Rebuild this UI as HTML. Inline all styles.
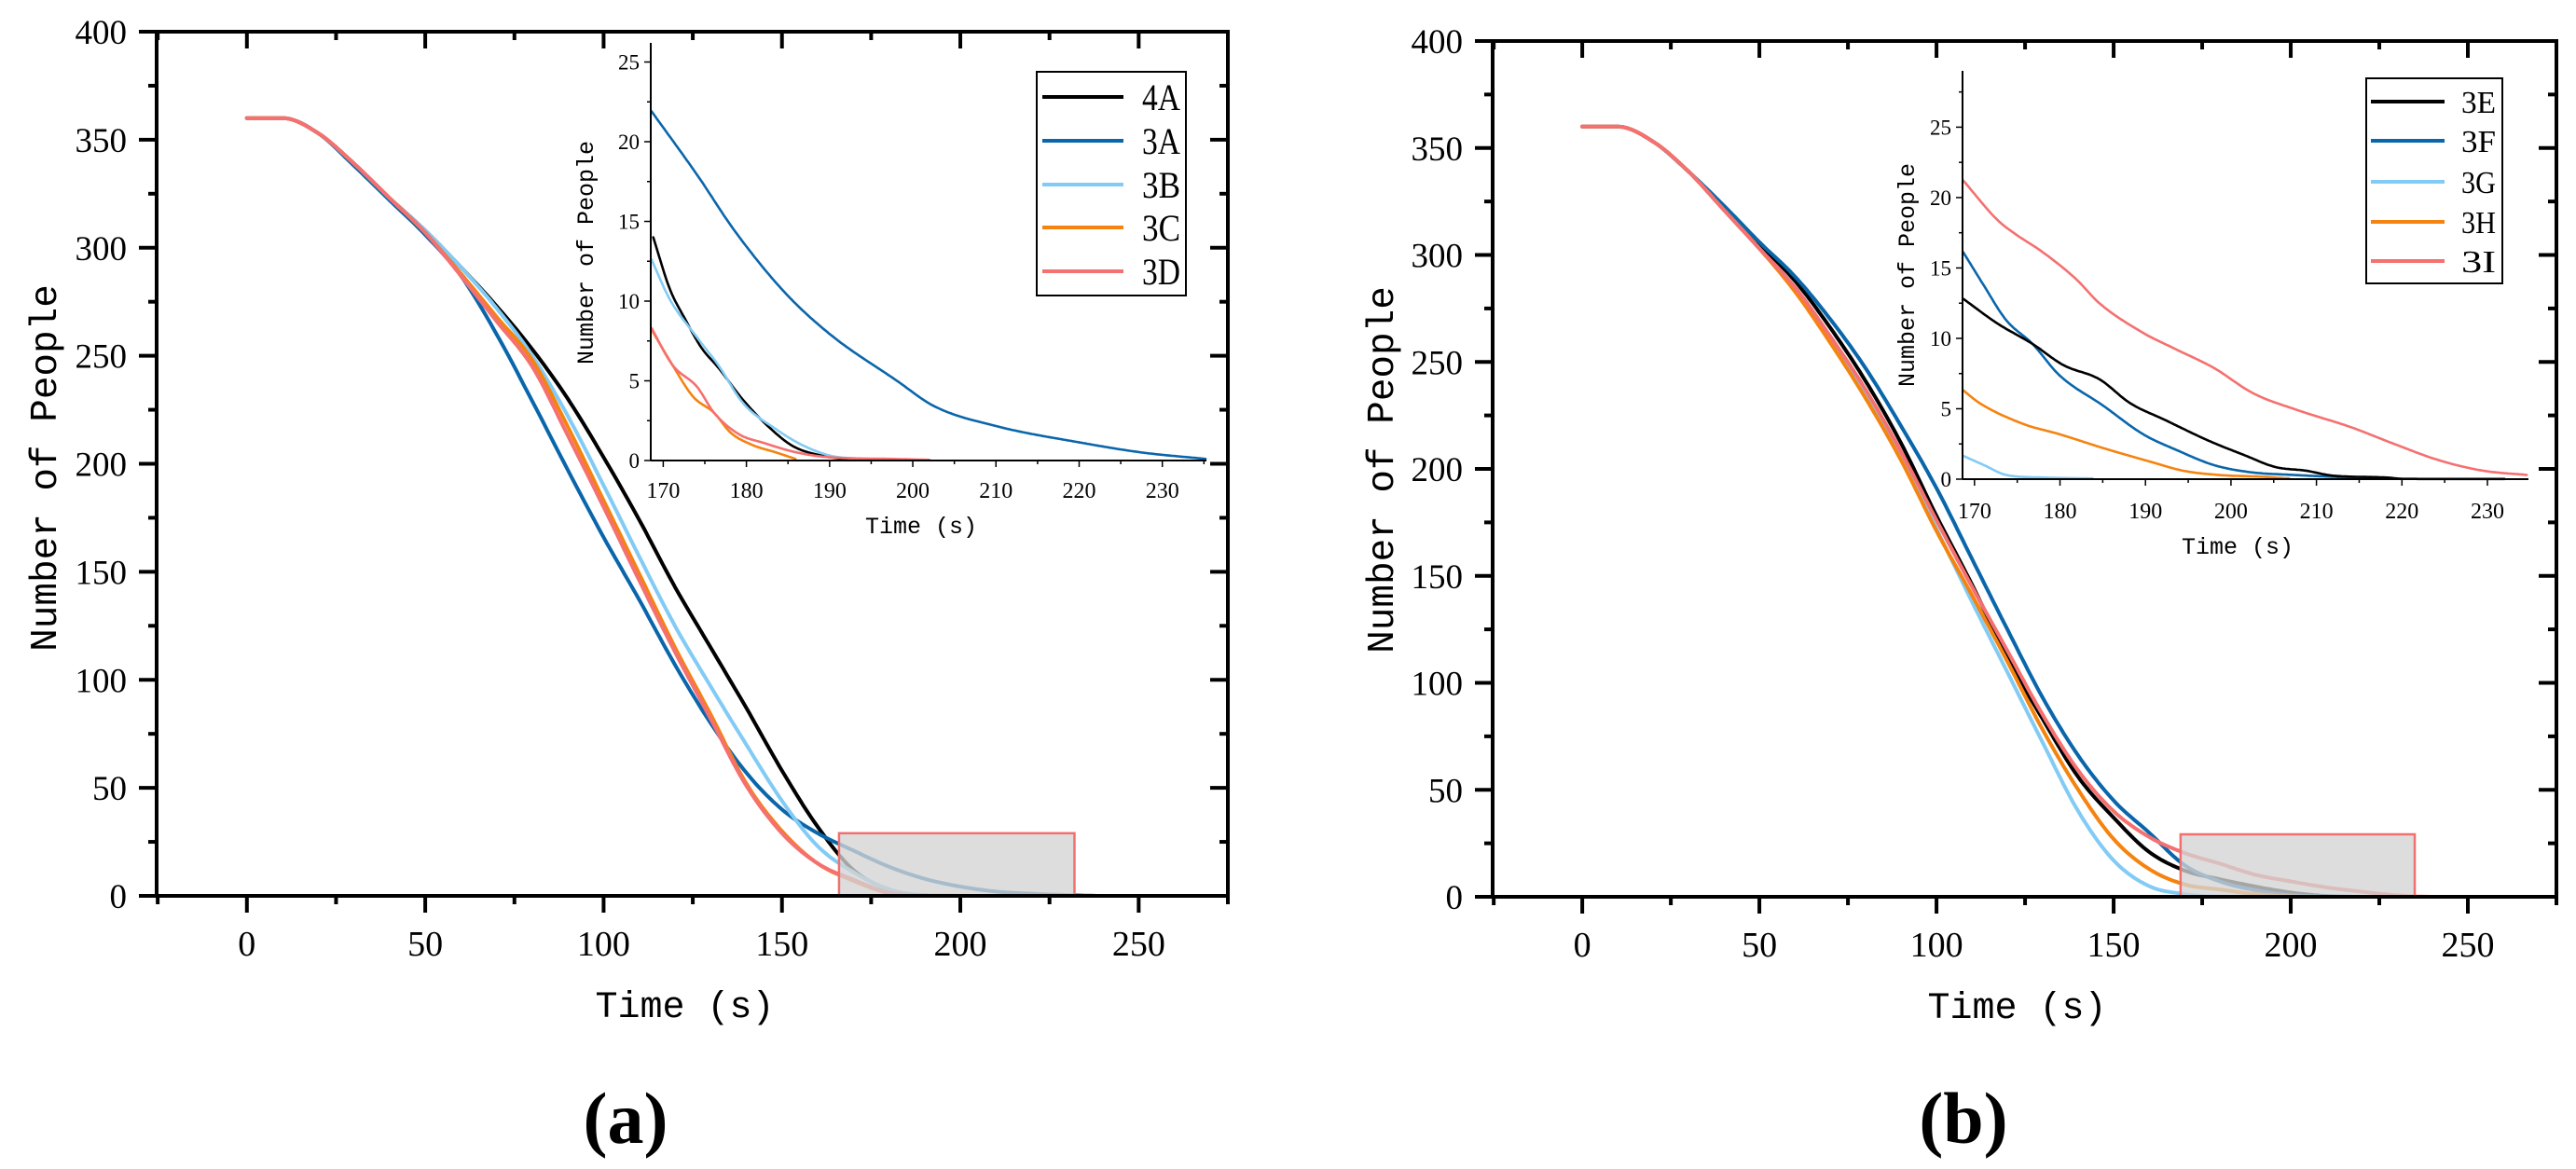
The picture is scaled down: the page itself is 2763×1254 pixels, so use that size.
<!DOCTYPE html>
<html><head><meta charset="utf-8">
<style>
html,body{margin:0;padding:0;background:#fff;}
svg{display:block;}
.tk{font-family:"Liberation Serif",serif;fill:#000;}
.mono{font-family:"Liberation Mono",monospace;fill:#000;}
</style></head>
<body>
<svg id="chart" width="2763" height="1254" viewBox="0 0 2763 1254" xmlns="http://www.w3.org/2000/svg"></svg>
<script>
// ---------- Panel (a) main data ----------
const mainTimes = [0,10,20,30,40,50,60,70,80,90,100,110,120,130,140,150,160,170,180,190,200,210,220,230,240,250];
const a_4A = [360,360,353,339,323,308,291,273,253,230,203,174,143,115,87,58,32,12,3,0.3,0,0,0,0,0,0];
const a_3A = [360,360,353,338,322,306,287,260,229,197,166,137,107,80,57,40,29,21,13.5,7.9,4.3,2.0,1.0,0.4,0,0];
const a_3B = [360,360,353,339,323,308,291,272,250,222,190,157,125,97,70,44,23,11,3,0.3,0,0,0,0,0,0];
const a_3C = [360,360,353,339,323,307,288,268,248,217,183,149,115,84,52,30,15,7,1.2,0,0,0,0,0,0,0];
const a_3D = [360,360,353,339,323,307,287,266,245,213,180,146,113,82,51,29,15,7.5,1.5,0.3,0.05,0,0,0,0,0];
// ---------- Panel (a) inset data ----------
const ia_3A_t = [168.6,174.1,178.6,184.6,190.1,198.1,202.6,210.1,220.1,227.6,235.2];
const ia_3A_v = [21.9,17.9,14.4,10.55,7.9,5.0,3.4,2.15,1.13,0.5,0.1];
const ia_4A_t = [168.8,170.8,172.6,174.6,176.6,179.6,182.6,185.6,189.1,192.6];
const ia_4A_v = [14.0,10.75,8.9,7.07,5.84,3.8,2.15,0.9,0.3,0.04];
const ia_3B_t = [168.6,170.8,174.1,176.6,179.6,183.6,186.6,190.1,193.6,195];
const ia_3B_v = [12.6,10.1,7.7,6.0,3.6,1.95,1.0,0.3,0.1,0.02];
const ia_3C_t = [168.6,171.1,173.6,176.1,178.1,180.6,183.6,185.9];
const ia_3C_v = [8.2,6.0,4.0,3.0,1.75,1.0,0.5,0.1];
const ia_3D_t = [168.6,171.1,174.1,176.1,179.1,182.1,186.1,190.1,197.6,202];
const ia_3D_v = [8.3,6.0,4.6,3.0,1.65,1.1,0.5,0.2,0.1,0.04];
// ---------- Panel (b) main data ----------
const b_3E = [360,360,353,339,322,305,288,266,241,212,178,146,112,83,56,37,21,12.3,8.2,4.8,2.0,0.4,0,0,0,0];
const b_3F = [360,360,353,339,323,306,290,270,247,220,191,158,125,93,66,45,30,14.8,7.2,3.1,0.8,0.2,0,0,0,0];
const b_3G = [360,360,353,339,321,303,284,260,234,205,172,138,105,72,40,17,5,1.3,0.1,0,0,0,0,0,0,0];
const b_3H = [360,360,353,339,321,303,283,259,233,204,171,141,110,78,50,27,13,5.8,3.4,1.3,0.2,0,0,0,0,0];
const b_3I = [360,360,353,339,321,303,285,262,237,208,176,145,115,85,59,40,28,20.5,15.5,10.3,7.2,4.4,2.4,0.7,0,0];
// ---------- Panel (b) inset data ----------
const ib_3I_t = [168.7,172.7,174.8,177.8,181.9,184.6,189.7,193.3,198,202.6,207.8,214,219.1,224.3,229.5,234.6];
const ib_3I_v = [21.2,18.4,17.4,16.2,14.2,12.5,10.4,9.3,7.9,6.1,4.9,3.7,2.5,1.35,0.6,0.3];
const ib_3F_t = [168.7,171.1,173.7,176.8,179.9,185.1,189.7,193.9,198,202.2,207.3,214,220];
const ib_3F_v = [16.1,13.75,11.3,9.6,7.4,5.2,3.2,2.0,1.0,0.5,0.3,0.12,0.02];
const ib_3E_t = [168.7,172.7,176.8,180.4,184.6,188.2,192.3,197.5,201.6,205.2,208.8,211.9,218.1,220.2,232];
const ib_3E_v = [12.8,11.05,9.6,8.1,7.1,5.4,4.2,2.7,1.7,0.86,0.6,0.25,0.12,0.02,0.01];
const ib_3H_t = [168.7,170.6,175.8,179.9,185.1,190.8,194.4,198.5,203.7,206.8];
const ib_3H_v = [6.3,5.4,3.9,3.2,2.2,1.2,0.6,0.3,0.17,0.05];
const ib_3G_t = [168.7,171.1,173.7,177.8,183.8];
const ib_3G_v = [1.65,1.0,0.3,0.12,0.05];

const mainYTicks = [0,50,100,150,200,250,300,350,400];
const mainXTicks = [0,50,100,150,200,250];
const insetXTicks = [170,180,190,200,210,220,230];
const insetYTicks = [0,5,10,15,20,25];

const C = {black:'#000000', dblue:'#0a66ab', lblue:'#82cbf5', orange:'#f5830f', red:'#f57070'};
const svg = document.getElementById('chart');
const NS = 'http://www.w3.org/2000/svg';
function mk(tag, attrs, parent){
  const e = document.createElementNS(NS, tag);
  for (const k in attrs) e.setAttribute(k, attrs[k]);
  (parent||svg).appendChild(e);
  return e;
}
function lin(d0,d1,r0,r1){ return v => r0 + (v-d0)/(d1-d0)*(r1-r0); }
function mono(xs, ys){
  const n = xs.length, d=[], m=[];
  for (let i=0;i<n-1;i++) d.push((ys[i+1]-ys[i])/(xs[i+1]-xs[i]));
  m[0]=d[0]; m[n-1]=d[n-2];
  for (let i=1;i<n-1;i++) m[i] = (d[i-1]*d[i]<=0)?0:(d[i-1]+d[i])/2;
  for (let i=0;i<n-1;i++){
    if (d[i]===0){m[i]=0;m[i+1]=0;continue;}
    const a=m[i]/d[i], b=m[i+1]/d[i], s=a*a+b*b;
    if (s>9){const t=3/Math.sqrt(s); m[i]=t*a*d[i]; m[i+1]=t*b*d[i];}
  }
  return x => {
    let i=0; while (i<n-2 && x>xs[i+1]) i++;
    const h=xs[i+1]-xs[i], t=(x-xs[i])/h, t2=t*t, t3=t2*t;
    return (2*t3-3*t2+1)*ys[i]+(t3-2*t2+t)*h*m[i]+(-2*t3+3*t2)*ys[i+1]+(t3-t2)*h*m[i+1];
  };
}
function series(g, xs, ys, sx, sy, color, w, name, x0, x1){
  const f = mono(xs, ys);
  const start = Math.max(xs[0], x0), end = Math.min(xs[xs.length-1], x1);
  let pts=[];
  for (let x=start; x<=end+1e-9; x+=(end-start)/300){
    pts.push(sx(x).toFixed(1)+','+sy(Math.max(0,f(x))).toFixed(1));
  }
  const p = mk('polyline',{points:pts.join(' '),fill:'none',stroke:color,'stroke-width':w,'stroke-linejoin':'round','stroke-linecap':'round'},g);
  
  
}
function text(g, x, y, str, cls, size, anchor, extra){
  const t = mk('text', Object.assign({x:x,y:y,class:cls,'font-size':size,'text-anchor':anchor||'middle'}, extra||{}), g);
  t.textContent = str;
  return t;
}

function panel(P){
  const g = mk('g',{});
  
  
  const sx = lin(-25.3,275,P.L,P.R), sy = lin(0,400,P.B,P.T);
  const sg = mk('g',{},g);
  
  
  P.main.forEach(s => series(sg, mainTimes, s.v, sx, sy, s.c, 4, P.id+'-line-'+s.n.toLowerCase(), 0, 250));
  const zr = mk('rect',{x:sx(P.rect[0]),y:sy(P.rect[2]),width:sx(P.rect[1])-sx(P.rect[0]),height:sy(0)-sy(P.rect[2]),fill:'#d4d4d4','fill-opacity':0.78,stroke:'#f07070','stroke-width':2.5},g);
  
  
  const fr = mk('rect',{x:P.L,y:P.T,width:P.R-P.L,height:P.B-P.T,fill:'none',stroke:'#000','stroke-width':4},g);
  
  
  for (let v=0; v<=400; v+=25){
    const major = v%50===0, len = major?19:9, y=sy(v);
    mk('line',{x1:P.L-len,y1:y,x2:P.L,y2:y,stroke:'#000','stroke-width':4},g);
    mk('line',{x1:P.R,y1:y,x2:P.R-len,y2:y,stroke:'#000','stroke-width':4},g);
  }
  mainYTicks.forEach(v => {
    const t = text(g, P.L-32, sy(v)+13, String(v), 'tk', 37, 'end');
    
    
  });
  for (let v=-25; v<=275; v+=25){
    const major = v%50===0, len = major?18:9, x=sx(v);
    mk('line',{x1:x,y1:P.B,x2:x,y2:P.B+len,stroke:'#000','stroke-width':4},g);
    mk('line',{x1:x,y1:P.T,x2:x,y2:P.T+len,stroke:'#000','stroke-width':4},g);
  }
  mainXTicks.forEach(v => {
    const t = text(g, sx(v), P.B+64, String(v), 'tk', 38, 'middle');
    
    
  });
  const xt = text(g, (P.L+P.R)/2-8, P.B+130, 'Time (s)', 'mono', 40, 'middle');
  
  
  const yt = text(g, 0, 0, 'Number of People', 'mono', 41, 'middle', {transform:'translate('+(P.ytx)+','+(P.yty)+') rotate(-90)'});
  
  
  const lab = text(g, P.labX, 1226, P.label, 'tk', 78, 'middle', {'font-weight':'bold'});
  
  

  const I = P.inset;
  const ig = mk('g',{},g);
  
  
  const ix = lin(I.x0,I.x1,I.L,I.R), iy = lin(0,I.ymax,I.B,I.T);
  I.series.forEach(s => series(ig, s.t, s.v, ix, iy, s.c, 2.6, P.id+'-inset-line-'+s.n.toLowerCase(), I.x0, I.x1));
  mk('line',{x1:I.L,y1:I.T,x2:I.L,y2:I.B,stroke:'#000','stroke-width':2},ig);
  mk('line',{x1:I.L,y1:I.B,x2:I.R,y2:I.B,stroke:'#000','stroke-width':2},ig);
  for (let v=0; v<=I.ymax; v+=2.5){
    const major = v%5===0;
    mk('line',{x1:I.L-(major?7:4),y1:iy(v),x2:I.L,y2:iy(v),stroke:'#000','stroke-width':1.5},ig);
  }
  for (let v=170; v<=I.x1; v+=5){
    const major = v%10===0;
    mk('line',{x1:ix(v),y1:I.B,x2:ix(v),y2:I.B+(major?7:4),stroke:'#000','stroke-width':1.5},ig);
  }
  insetYTicks.forEach(v => {
    const t = text(ig, I.L-12, iy(v)+8, String(v), 'tk', 23, 'end');
    
    
  });
  insetXTicks.forEach(v => {
    const t = text(ig, ix(v), I.xlabY, String(v), 'tk', 24, 'middle');
    
    
  });
  const ixt = text(ig, I.xtX, I.xtY, 'Time (s)', 'mono', 25, 'middle');
  
  
  const iyt = text(ig, 0, 0, 'Number of People', 'mono', 25, 'middle', {transform:'translate('+I.ytX+','+I.ytY+') rotate(-90)'});
  
  

  const Lg = P.legend;
  const lg = mk('g',{},g);
  
  
  mk('rect',{x:Lg.x,y:Lg.y,width:Lg.w,height:Lg.h,fill:'#fff',stroke:'#000','stroke-width':2},lg);
  P.main.forEach((s,i) => {
    const e = mk('g',{},lg);
    
    
    const y = Lg.rows[i];
    mk('line',{x1:Lg.l1,y1:y,x2:Lg.l2,y2:y,stroke:s.c,'stroke-width':4},e);
    text(e, Lg.tx, y+Lg.fs*0.35, s.n, 'tk', Lg.fs, 'start', {textLength:Lg.tw, lengthAdjust:'spacingAndGlyphs'});
  });
}

panel({
  id:'a', L:168, R:1317, T:34, B:961, rect:[166,232,29], label:'(a)', labX:671, ytx:60, yty:502,
  main:[{n:'4A',v:a_4A,c:C.black},{n:'3A',v:a_3A,c:C.dblue},{n:'3B',v:a_3B,c:C.lblue},{n:'3C',v:a_3C,c:C.orange},{n:'3D',v:a_3D,c:C.red}],
  inset:{L:698,R:1294,T:46,B:494,x0:168.5,x1:235.3,ymax:26.2,xlabY:534,xtX:988,xtY:572,ytX:636,ytY:271,
    series:[{n:'3A',t:ia_3A_t,v:ia_3A_v,c:C.dblue},{n:'4A',t:ia_4A_t,v:ia_4A_v,c:C.black},{n:'3B',t:ia_3B_t,v:ia_3B_v,c:C.lblue},{n:'3C',t:ia_3C_t,v:ia_3C_v,c:C.orange},{n:'3D',t:ia_3D_t,v:ia_3D_v,c:C.red}]},
  legend:{x:1112,y:77,w:160,h:240,l1:1118,l2:1205,tx:1225,fs:40,tw:41,rows:[104,151,198,244,291]}
});
panel({
  id:'b', L:1601, R:2742, T:44, B:962, rect:[168.9,235,29.2], label:'(b)', labX:2106, ytx:1494, yty:504,
  main:[{n:'3E',v:b_3E,c:C.black},{n:'3F',v:b_3F,c:C.dblue},{n:'3G',v:b_3G,c:C.lblue},{n:'3H',v:b_3H,c:C.orange},{n:'3I',v:b_3I,c:C.red}],
  inset:{L:2105,R:2712,T:76,B:514,x0:168.6,x1:234.8,ymax:29,xlabY:556,xtX:2400,xtY:594,ytX:2053,ytY:295,
    series:[{n:'3I',t:ib_3I_t,v:ib_3I_v,c:C.red},{n:'3F',t:ib_3F_t,v:ib_3F_v,c:C.dblue},{n:'3E',t:ib_3E_t,v:ib_3E_v,c:C.black},{n:'3H',t:ib_3H_t,v:ib_3H_v,c:C.orange},{n:'3G',t:ib_3G_t,v:ib_3G_v,c:C.lblue}]},
  legend:{x:2538,y:84,w:146,h:220,l1:2543,l2:2622,tx:2640,fs:34,tw:37,rows:[109,151,195,238,280]}
});
</script>
</body></html>
